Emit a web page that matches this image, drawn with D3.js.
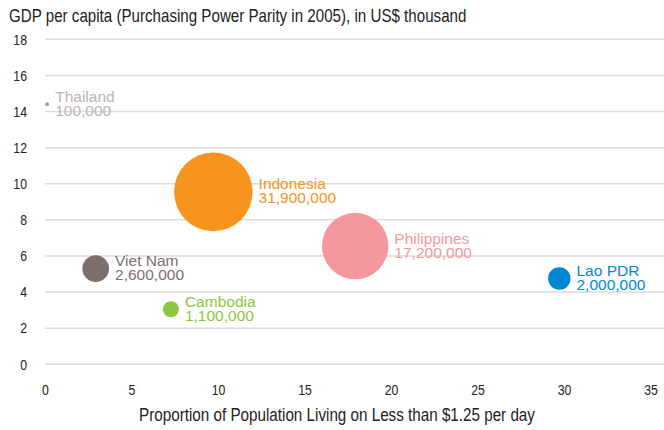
<!DOCTYPE html>
<html>
<head>
<meta charset="utf-8">
<script src="https://cdn.jsdelivr.net/npm/d3@7"></script>
<style>
  body { margin: 0; background: #fff; }
  text { font-family: "Liberation Sans", Arial, Helvetica, sans-serif; }
</style>
</head>
<body>
<script>
var countries = ['Thailand', 'Viet Nam', 'Cambodia', 'Indonesia', 'Philippines', 'Lao PDR'];
var povertyShare = [0.1, 2.9, 7.25, 9.7, 17.9, 29.7];
var gdpPerCapita = [14.4, 5.3, 3.05, 9.55, 6.55, 4.75];
var poorPeople = ['100,000', '2,600,000', '1,100,000', '31,900,000', '17,200,000', '2,000,000'];
// bubble area as drawn (millions)
var bubbleArea = [0.06, 2.8, 1.0, 24.1, 17.2, 1.96];
var colors = ['#a9a19e', '#7d6f6c', '#8dc63f', '#f7941e', '#f4989d', '#0089d0'];
var labelColors = ['#bcb4b1', '#7d6f6c', '#8dc63f', '#f7941e', '#f4989d', '#0089d0'];
var xTicks = [0, 5, 10, 15, 20, 25, 30, 35];
var yTicks = [0, 2, 4, 6, 8, 10, 12, 14, 16, 18];

var width = 664, height = 430;

var createSvg = function(){
	return d3.select('body')
		.append('svg')
		.attr('width', width)
		.attr('height', height);
}

// condensed look: squeeze a normal face horizontally
var narrowText = function(group, px, py, size, squeeze, anchor, str){
	return group.append('text')
		.attr('transform', 'translate(' + px + ',' + py + ') scale(' + squeeze + ',1)')
		.attr('text-anchor', anchor)
		.attr('font-size', size)
		.attr('fill', '#222')
		.text(str);
}

window.onload = function() {
	var svg = createSvg();

	var x = d3.scaleLinear().domain([0, 35]).range([45.5, 651]);
	var y = d3.scaleLinear().domain([0, 18]).range([364.3, 39.3]);
	var r = d3.scaleSqrt().domain([0, 1]).range([0, 8]);

	// gridlines
	svg.append('g').selectAll('line')
		.data(yTicks)
		.enter()
		.append('line')
		.attr('x1', 45)
		.attr('x2', width)
		.attr('y1', function(d){return y(d)})
		.attr('y2', function(d){return y(d)})
		.attr('stroke', '#dcdcdc')
		.attr('stroke-width', 1.5);

	var axisG = svg.append('g');
	yTicks.forEach(function(d){
		narrowText(axisG, 27, y(d) + 5.3, 15, 0.82, 'end', d);
	});
	xTicks.forEach(function(d){
		narrowText(axisG, x(d), 395, 15, 0.82, 'middle', d);
	});

	narrowText(svg, 9, 22, 17.5, 0.865, 'start', 'GDP per capita (Purchasing Power Parity in 2005), in US$ thousand');
	narrowText(svg, 337, 421, 17.5, 0.87, 'middle', 'Proportion of Population Living on Less than $1.25 per day');

	var idx = d3.range(countries.length);

	var bubbles = svg.append('g').selectAll('g')
		.data(idx)
		.enter()
		.append('g')
		.attr('transform', function(i){return 'translate(' + x(povertyShare[i]) + ',' + y(gdpPerCapita[i]) + ')'});

	bubbles.append('circle')
		.attr('r', function(i){return r(bubbleArea[i])})
		.attr('fill', function(i){return colors[i]});

	var labels = bubbles.append('text')
		.attr('font-size', 15.5)
		.attr('fill', function(i){return labelColors[i]});

	labels.append('tspan')
		.attr('x', function(i){return r(bubbleArea[i]) + 6})
		.attr('y', -2.5)
		.text(function(i){return countries[i]});

	labels.append('tspan')
		.attr('x', function(i){return r(bubbleArea[i]) + 6})
		.attr('y', 11.5)
		.text(function(i){return poorPeople[i]});
}
</script>
</body>
</html>
